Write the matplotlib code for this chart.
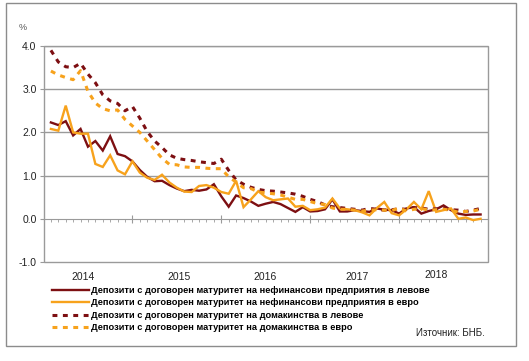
import numpy as np
import matplotlib
matplotlib.use("Agg")
from matplotlib import pyplot as plt
from matplotlib import transforms
from matplotlib.patches import Rectangle

plt.rcParams['font.family'] = ['Liberation Sans', 'DejaVu Sans']

# monthly observations, Jan 2014 onward (month index 1..59)
months = np.arange(1, 60)

nfc_bgn = [2.23, 2.17, 2.26, 1.93, 2.08, 1.67, 1.80, 1.58, 1.91, 1.50,
           1.45, 1.33, 1.13, 0.97, 0.87, 0.88, 0.78, 0.70, 0.64, 0.67,
           0.65, 0.68, 0.80, 0.52, 0.28, 0.54, 0.48, 0.40, 0.30, 0.35,
           0.39, 0.34, 0.25, 0.16, 0.27, 0.17, 0.18, 0.22, 0.45, 0.17,
           0.17, 0.20, 0.18, 0.16, 0.24, 0.21, 0.20, 0.12, 0.24, 0.27,
           0.12, 0.18, 0.22, 0.31, 0.20, 0.12, 0.09, 0.10, 0.10]

nfc_eur = [2.08, 2.04, 2.62, 2.00, 1.97, 1.97, 1.27, 1.20, 1.47, 1.12,
           1.03, 1.33, 1.07, 0.95, 0.90, 1.02, 0.84, 0.72, 0.63, 0.62,
           0.76, 0.78, 0.72, 0.62, 0.58, 0.88, 0.27, 0.45, 0.64, 0.50,
           0.43, 0.45, 0.47, 0.28, 0.30, 0.20, 0.22, 0.26, 0.47, 0.24,
           0.22, 0.20, 0.15, 0.08, 0.25, 0.39, 0.13, 0.08, 0.22, 0.39,
           0.22, 0.64, 0.16, 0.20, 0.24, 0.00, 0.03, -0.03, 0.00]

hh_bgn = [3.90, 3.63, 3.52, 3.50, 3.60, 3.35, 3.15, 2.87, 2.73, 2.67,
          2.50, 2.60, 2.33, 2.02, 1.80, 1.65, 1.48, 1.40, 1.37, 1.35,
          1.32, 1.30, 1.28, 1.38, 1.12, 0.90, 0.80, 0.73, 0.68, 0.65,
          0.64, 0.62, 0.60, 0.57, 0.52, 0.45, 0.40, 0.32, 0.28, 0.26,
          0.24, 0.22, 0.20, 0.24, 0.22, 0.20, 0.21, 0.23, 0.22, 0.26,
          0.25, 0.22, 0.23, 0.24, 0.21, 0.20, 0.17, 0.20, 0.24]

hh_eur = [3.42, 3.33, 3.27, 3.22, 3.43, 2.95, 2.68, 2.55, 2.50, 2.52,
          2.30, 2.15, 2.00, 1.80, 1.60, 1.40, 1.26, 1.25, 1.20, 1.19,
          1.19, 1.17, 1.16, 1.16, 0.97, 0.85, 0.72, 0.70, 0.62, 0.60,
          0.58, 0.55, 0.50, 0.45, 0.45, 0.40, 0.35, 0.33, 0.25, 0.22,
          0.22, 0.20, 0.18, 0.20, 0.21, 0.20, 0.19, 0.25, 0.18, 0.22,
          0.24, 0.20, 0.21, 0.22, 0.20, 0.15, 0.17, 0.18, 0.22]

years = ['2014', '2015', '2016', '2017', '2018']
year_pos = [5.3, 18.3, 29.9, 42.3, 53.0]

labels = ['Депозити с договорен матуритет на нефинансови предприятия в левове',
          'Депозити с договорен матуритет на нефинансови предприятия в евро',
          'Депозити с договорен матуритет на домакинства в левове',
          'Депозити с договорен матуритет на домакинства в евро']

dark = '#7d0f12'
orange = '#f7a21c'
grid_c = '#9a9a9a'

fig = plt.figure(figsize=(5.29, 3.61), dpi=100)
ax = fig.add_axes([43.5/529, 1-262/361, (488-43.5)/529, (262-46)/361])

# outer frame of the whole chart
fig.patches.append(Rectangle((6/529, 1-346/361), 510/529, 343/361,
                             transform=fig.transFigure, fill=False,
                             edgecolor='#8c8c8c', lw=1.0))

l1, = ax.plot(months, nfc_bgn, color=dark, lw=1.7, solid_joinstyle='miter')
l2, = ax.plot(months, nfc_eur, color=orange, lw=1.7, solid_joinstyle='miter')
l3, = ax.plot(months, hh_bgn, color=dark, lw=2.2, dashes=(1.6, 1.8))
l4, = ax.plot(months, hh_eur, color=orange, lw=2.2, dashes=(1.6, 1.8))

ax.set_xlim(0, 60)
ax.set_ylim(-1, 4)
ax.set_yticks([-1, 0, 1, 2, 3, 4])
ax.set_yticklabels(['-1.0', '0.0', '1.0', '2.0', '3.0', '4.0'])
for y in [1, 2, 3, 4]:
    ax.axhline(y, color=grid_c, lw=1.0, zorder=0)

for s in ['top', 'right', 'left']:
    ax.spines[s].set_visible(False)
ax.spines['bottom'].set_position(('data', 0))
ax.spines['bottom'].set_color(grid_c)
ax.spines['bottom'].set_zorder(0)
ax.add_patch(Rectangle((0, 0), 1, 1, transform=ax.transAxes, fill=False,
                       edgecolor=grid_c, lw=1.0, clip_on=False, zorder=0))

ax.set_xticks([12, 24, 36, 48])
ax.set_xticks(np.arange(1, 60), minor=True)
ax.tick_params(axis='x', which='major', direction='inout', length=6,
               color=grid_c, labelbottom=False)
ax.tick_params(axis='x', which='minor', direction='out', length=2.5,
               color=grid_c)
ax.tick_params(axis='y', direction='out', length=3, color=grid_c,
               labelsize=7.5, labelcolor='#222222', pad=2)

trans = transforms.blended_transform_factory(ax.transData, fig.transFigure)
for yr, xp in zip(years, year_pos):
    yy = 1 - 275.5/361 if yr == '2018' else 1 - 277.5/361
    ax.text(xp, yy, yr, transform=trans, ha='center', va='center',
            fontsize=7.5, color='#222222')

fig.text(23/529, 1-28/361, '%', ha='center', va='center', fontsize=6.5,
         color='#555555')

fig.legend([l1, l2, l3, l4], labels, loc='upper left',
           bbox_to_anchor=(52/529, 1-286/361), frameon=False,
           prop={'size': 6.7, 'weight': 'bold'}, handlelength=4.0,
           handletextpad=0.2, labelspacing=0.37, borderaxespad=0,
           borderpad=0)

fig.text(485/529, 1-333/361, 'Източник: БНБ.', ha='right', va='center',
         fontsize=7, color='#222222')

fig.savefig('out.png', dpi=100)
